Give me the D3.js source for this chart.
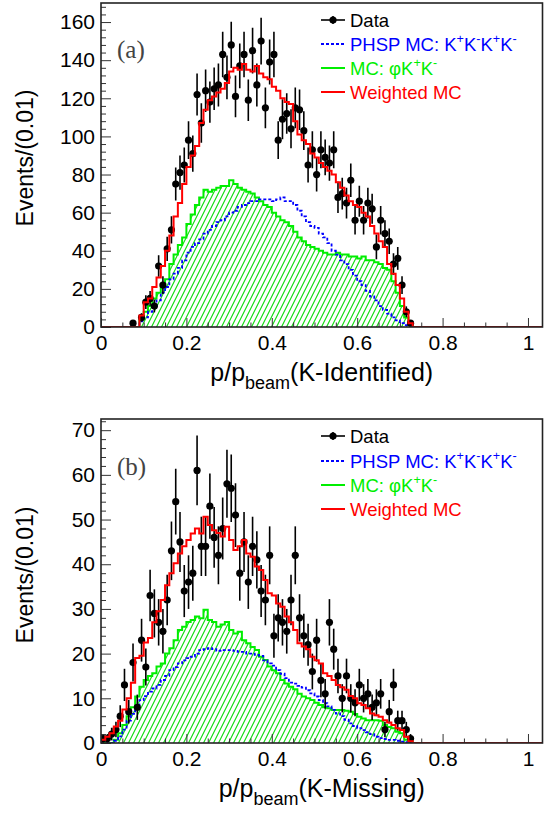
<!DOCTYPE html>
<html><head><meta charset="utf-8">
<script src="https://cdn.jsdelivr.net/npm/d3@7"></script>
<style>
html,body{margin:0;padding:0;background:#fff;}
svg{display:block;font-family:"Liberation Sans",Arial,sans-serif;}
</style></head>
<body>
<svg id="chart" width="554" height="817"></svg>
<script>
// ---------- DATA (bins of width 0.01, bin i covers [0.01*i, 0.01*(i+1)) ) ----------
const binWidth = 0.01;
const xTicksMajor = [0, 0.2, 0.4, 0.6, 0.8, 1];
const xTickLabels = ["0", "0.2", "0.4", "0.6", "0.8", "1"];
const legendLabels = ["Data", "PHSP MC: K+K-K+K-", "MC: \u03c6K+K-", "Weighted MC"];

// Panel (a): K-Identified
const dataA = [0,0,0,0,0,0,0,2,0,
  5,13,15,11,32,22,41,51,75,81,85,98,91,
  122,107,124,118,125,127,143,131,148,121,137,143,119,145,127,150,115,139,143,98,109,112,
  104,115,114,103,85,93,80,93,89,86,93,68,70,65,77,56,66,56,65,62,42,56,49,45,33,36,22,8,2,0];
const redA = [0,0,0,0,0,0,0,0,0,
  6,13,15,21,26,32,40,48,58,65,
  75,84,90,95,107,114,119,121,123,125,
  128,134,136,135,138,135,134,137,133,131,
  130,126,124,120,118,117,108,101,98,96,
  91,89,86,84,82,80,76,73,69,66,
  64,63,60,58,53,49,45,42,33,28,
  22,15,8,2,0];
const greenA = [0,0,0,0,0,0,0,0,0,
  4,8,11,15,18,21,25,33,38,43,
  47,54,59,64,68,72,71,72,73,74,
  74,77,75,73,72,71,70,68,66,64,
  63,60,58,56,55,53,50,47,45,43,
  42,41,40,39,38,38,39,38,38,37,
  37,36,37,35,35,34,33,31,30,24,
  18,11,5,1,0];
const blueA = [0,0,0,0,0,0,0,0,0,
  3,5,8,11,14,18,21,25,28,31,
  35,39,42,44,46,49,51,53,55,56,
  58,60,61,63,64,65,66,66,67,67,
  67,66,67,68,66,66,64,61,58,55,
  53,52,49,47,44,40,38,35,33,30,
  27,24,22,19,16,14,11,9,7,5,
  3.5,2,1,0.5,0];

// Panel (b): K-Missing
const dataB = [1,1,2,3,6,13,7,18,8,23,17,33,29,27,25,
  32,43,54,45,34,36,38,61,44,44,53,46,42,48,58,57,51,38,45,36,44,41,34,32,42,24,28,27,25,32,42,
  28,24,22,16,23,14,11,27,21,15,10,15,10,9,13,10,11,8,9,11,3,7,13,5,5,3,1,0];
const redB = [0.7,1.4,2.2,3.7,5,7.5,10,13.5,19,19.5,
  22.5,23.5,27,29.5,32,35.3,38,40.2,42.4,44,
  45.4,46.9,48,46.9,50.6,48.8,47.6,47,46.2,48.4,
  45.4,43.2,44,45.4,42.4,41.7,39.5,38.7,36.5,33.5,
  33,31.2,30.5,28.3,27,25.3,22.3,21.6,21,19.3,
  18.5,17.8,15.6,15,14.1,13,12.5,11.9,10.5,10,
  8.9,8.5,7.8,6.6,6.2,5.9,5.1,4.6,4,3.3,
  2.9,1.4,0.4,0];
const greenB = [0,0,0,0.7,2.2,4,6,8,10.4,12.6,
  14.1,15,15.6,17.1,17.8,20,21.2,23,25.3,26,
  27.1,27.5,28.3,27.9,29.8,27.5,27.1,26,26.5,27.1,
  25.3,24.5,24.9,23,22.3,21.5,20.8,19.3,18.6,17.1,
  16.3,15.6,14.1,13.3,12.6,12,11,10.4,10,9.6,
  9,8.5,8,7.8,7.4,7.4,7.4,7.2,7,6.5,
  5.9,5.5,5.1,5.1,5.1,5,4,3.6,3.3,2.5,
  2.2,0.7,0.2,0];
const blueB = [0,0,0,0.5,1.5,3,5,6.5,8,9.6,
  10.5,11.5,12.2,13,14.1,15,16.3,17,17.8,18.5,
  19,19.3,20,20.8,21,21.2,21,20.6,20.8,20.8,
  20.8,20.6,20.4,20.4,20,20,19.7,19.5,18.5,17.8,
  17.3,16.3,15.5,14.5,13.5,13.3,12.8,12.4,11.8,11.1,
  10.4,9.6,8.9,8.2,7.4,6.6,6,5.2,4.4,3.8,
  3.3,2.9,2.4,2,1.4,1.1,0.9,0.7,0.7,0.5,
  0.3,0.2,0,0];

// ---------- LAYOUT ----------
const XMAX = 1.034;
const frameLeft = 101, frameRight = 542.5;
const COL = {data:"#000000", blue:"#0000ff", green:"#00ee00", red:"#ff0000"};

const panels = [
  {id:"a", top:3, bottom:327, ymax:170, yMajor:20, yMinor:4, data:dataA, red:redA, green:greenA, blue:blueA,
   tag:"(a)", tagY:58, xsuffix:"(K-Identified)", titleY:381, ytitleY:158, legY:[20,44,68,92]},
  {id:"b", top:419, bottom:743, ymax:72.5, yMajor:10, yMinor:2, data:dataB, red:redB, green:greenB, blue:blueB,
   tag:"(b)", tagY:475, xsuffix:"(K-Missing)", titleY:797, ytitleY:575, legY:[436,461,485,509]}
];

const svg = d3.select("#chart");
const defs = svg.append("defs");
const pat = defs.append("pattern").attr("id","hatch").attr("patternUnits","userSpaceOnUse")
  .attr("width",5).attr("height",10);
pat.append("path").attr("d","M0,10 L5,0 M-1,2 L1,-2 M4,12 L6,8")
  .attr("stroke","#11dd11").attr("stroke-width",1.15).attr("fill","none");

const x = d3.scaleLinear().domain([0, XMAX]).range([frameLeft, frameRight]);
const nBins = Math.ceil(XMAX / binWidth);

function stepPoints(vals){
  const pts = [];
  for (let i=0;i<nBins;i++){
    const v = i<vals.length ? vals[i] : 0;
    pts.push([i*binWidth, v], [(i+1)*binWidth, v]);
  }
  return pts;
}

function supText(sel, str, size){
  const parts = str.split(/([+-])/);
  let raised = false;
  parts.forEach((p) => {
    if (p === "") return;
    if (p === "+" || p === "-") {
      sel.append("tspan").attr("dy", raised ? 0 : -size*0.42).attr("font-size", size*0.68).text(p);
      raised = true;
    } else {
      sel.append("tspan").attr("dy", raised ? size*0.42 : 0).attr("font-size", size).text(p);
      raised = false;
    }
  });
}

panels.forEach(P => {
  const y = d3.scaleLinear().domain([0, P.ymax]).range([P.bottom, P.top]);
  const g = svg.append("g");
  const clipId = "clip" + P.id;
  defs.append("clipPath").attr("id", clipId).append("rect")
    .attr("x", frameLeft).attr("y", P.top).attr("width", frameRight-frameLeft).attr("height", P.bottom-P.top);
  const plot = g.append("g").attr("clip-path", `url(#${clipId})`);

  const line = d3.line().x(d=>x(d[0])).y(d=>y(d[1]));
  const area = d3.area().x(d=>x(d[0])).y0(y(0)).y1(d=>y(d[1]));

  plot.append("path").attr("d", area(stepPoints(P.green))).attr("fill","url(#hatch)");
  plot.append("path").attr("d", line(stepPoints(P.green))).attr("fill","none")
    .attr("stroke", COL.green).attr("stroke-width",2);
  plot.append("path").attr("d", line(stepPoints(P.blue))).attr("fill","none")
    .attr("stroke", COL.blue).attr("stroke-width",1.8).attr("stroke-dasharray","3,2");

  const pts = P.data.map((v,i)=>({x:(i+0.5)*binWidth, v:v})).filter(d=>d.v>0);
  const dg = plot.append("g");
  dg.selectAll("line.ev").data(pts).join("line").attr("class","ev")
    .attr("x1", d=>x(d.x)).attr("x2", d=>x(d.x))
    .attr("y1", d=>y(d.v+Math.sqrt(d.v))).attr("y2", d=>y(Math.max(0,d.v-Math.sqrt(d.v))))
    .attr("stroke","#000").attr("stroke-width",1.6);
  dg.selectAll("line.eh").data(pts).join("line").attr("class","eh")
    .attr("x1", d=>x(d.x-binWidth/2)).attr("x2", d=>x(d.x+binWidth/2))
    .attr("y1", d=>y(d.v)).attr("y2", d=>y(d.v))
    .attr("stroke","#000").attr("stroke-width",1.6);
  dg.selectAll("circle").data(pts).join("circle")
    .attr("cx", d=>x(d.x)).attr("cy", d=>y(d.v)).attr("r",3.6).attr("fill","#000");

  plot.append("path").attr("d", line(stepPoints(P.red))).attr("fill","none")
    .attr("stroke", COL.red).attr("stroke-width",2);

  const xMinor = d3.range(0, XMAX, 0.05).filter(v => Math.abs(v/0.2 - Math.round(v/0.2))>1e-6);
  g.append("g").attr("transform",`translate(0,${P.bottom})`)
    .call(d3.axisBottom(x).tickValues(xMinor).tickSize(-4.5).tickFormat(""))
    .call(s=>{s.select(".domain").remove(); s.selectAll("line").attr("stroke","#333");});
  g.append("g").attr("transform",`translate(0,${P.bottom})`)
    .call(d3.axisBottom(x).tickValues(xTicksMajor).tickSize(-9).tickPadding(8)
      .tickFormat((d,i)=>xTickLabels[i]))
    .call(s=>{s.select(".domain").remove(); s.selectAll("line").attr("stroke","#333");
      s.selectAll("text").attr("font-size",21).attr("font-family","Liberation Sans, Arial, sans-serif").attr("fill","#000");});

  const yMinorVals = d3.range(0, P.ymax+1e-9, P.yMinor).filter(v => Math.abs(v/P.yMajor - Math.round(v/P.yMajor))>1e-6);
  const yMajorVals = d3.range(0, P.ymax+1e-9, P.yMajor);
  g.append("g").attr("transform",`translate(${frameLeft},0)`)
    .call(d3.axisLeft(y).tickValues(yMinorVals).tickSize(-5).tickFormat(""))
    .call(s=>{s.select(".domain").remove(); s.selectAll("line").attr("stroke","#333");});
  g.append("g").attr("transform",`translate(${frameLeft},0)`)
    .call(d3.axisLeft(y).tickValues(yMajorVals).tickSize(-10).tickPadding(6).tickFormat(d3.format("d")))
    .call(s=>{s.select(".domain").remove(); s.selectAll("line").attr("stroke","#333");
      s.selectAll("text").attr("font-size",21).attr("font-family","Liberation Sans, Arial, sans-serif").attr("fill","#000");});

  g.append("rect").attr("x",frameLeft).attr("y",P.top).attr("width",frameRight-frameLeft)
    .attr("height",P.bottom-P.top).attr("fill","none").attr("stroke","#222").attr("stroke-width",1.6);

  g.append("text").attr("x",117).attr("y",P.tagY).attr("font-family","Liberation Serif, Times New Roman, serif")
    .attr("font-size",25).attr("fill","#444").text(P.tag);

  const xt = g.append("text").attr("x",(frameLeft+frameRight)/2).attr("y",P.titleY)
    .attr("text-anchor","middle").attr("font-size",25).attr("fill","#000");
  xt.append("tspan").text("p/p");
  xt.append("tspan").attr("dy",8).attr("font-size",18).text("beam");
  xt.append("tspan").attr("dy",-8).text(P.xsuffix);

  g.append("text").attr("transform",`translate(33,${P.ytitleY}) rotate(-90)`)
    .attr("text-anchor","middle").attr("font-size",23).attr("fill","#000").text("Events/(0.01)");

  const lx0 = 321, lx1 = 345, tx = 350, fs = 18.5;
  const L = g.append("g");
  L.append("line").attr("x1",lx0).attr("x2",lx1).attr("y1",P.legY[0]).attr("y2",P.legY[0]).attr("stroke","#000").attr("stroke-width",1.6);
  L.append("line").attr("x1",(lx0+lx1)/2).attr("x2",(lx0+lx1)/2).attr("y1",P.legY[0]-4).attr("y2",P.legY[0]+4).attr("stroke","#000").attr("stroke-width",1.6);
  L.append("circle").attr("cx",(lx0+lx1)/2).attr("cy",P.legY[0]).attr("r",3.6).attr("fill","#000");
  L.append("text").attr("x",tx).attr("y",P.legY[0]+6.5).attr("font-size",fs).attr("fill","#000").text(legendLabels[0]);
  L.append("line").attr("x1",lx0).attr("x2",lx1).attr("y1",P.legY[1]).attr("y2",P.legY[1]).attr("stroke",COL.blue).attr("stroke-width",1.8).attr("stroke-dasharray","3,2");
  supText(L.append("text").attr("x",tx).attr("y",P.legY[1]+6.5).attr("fill",COL.blue), legendLabels[1], fs);
  L.append("line").attr("x1",lx0).attr("x2",lx1).attr("y1",P.legY[2]).attr("y2",P.legY[2]).attr("stroke",COL.green).attr("stroke-width",2);
  supText(L.append("text").attr("x",tx).attr("y",P.legY[2]+6.5).attr("fill",COL.green), legendLabels[2], fs);
  L.append("line").attr("x1",lx0).attr("x2",lx1).attr("y1",P.legY[3]).attr("y2",P.legY[3]).attr("stroke",COL.red).attr("stroke-width",2);
  L.append("text").attr("x",tx).attr("y",P.legY[3]+6.5).attr("font-size",fs).attr("fill",COL.red).text(legendLabels[3]);
});
</script>
</body></html>
